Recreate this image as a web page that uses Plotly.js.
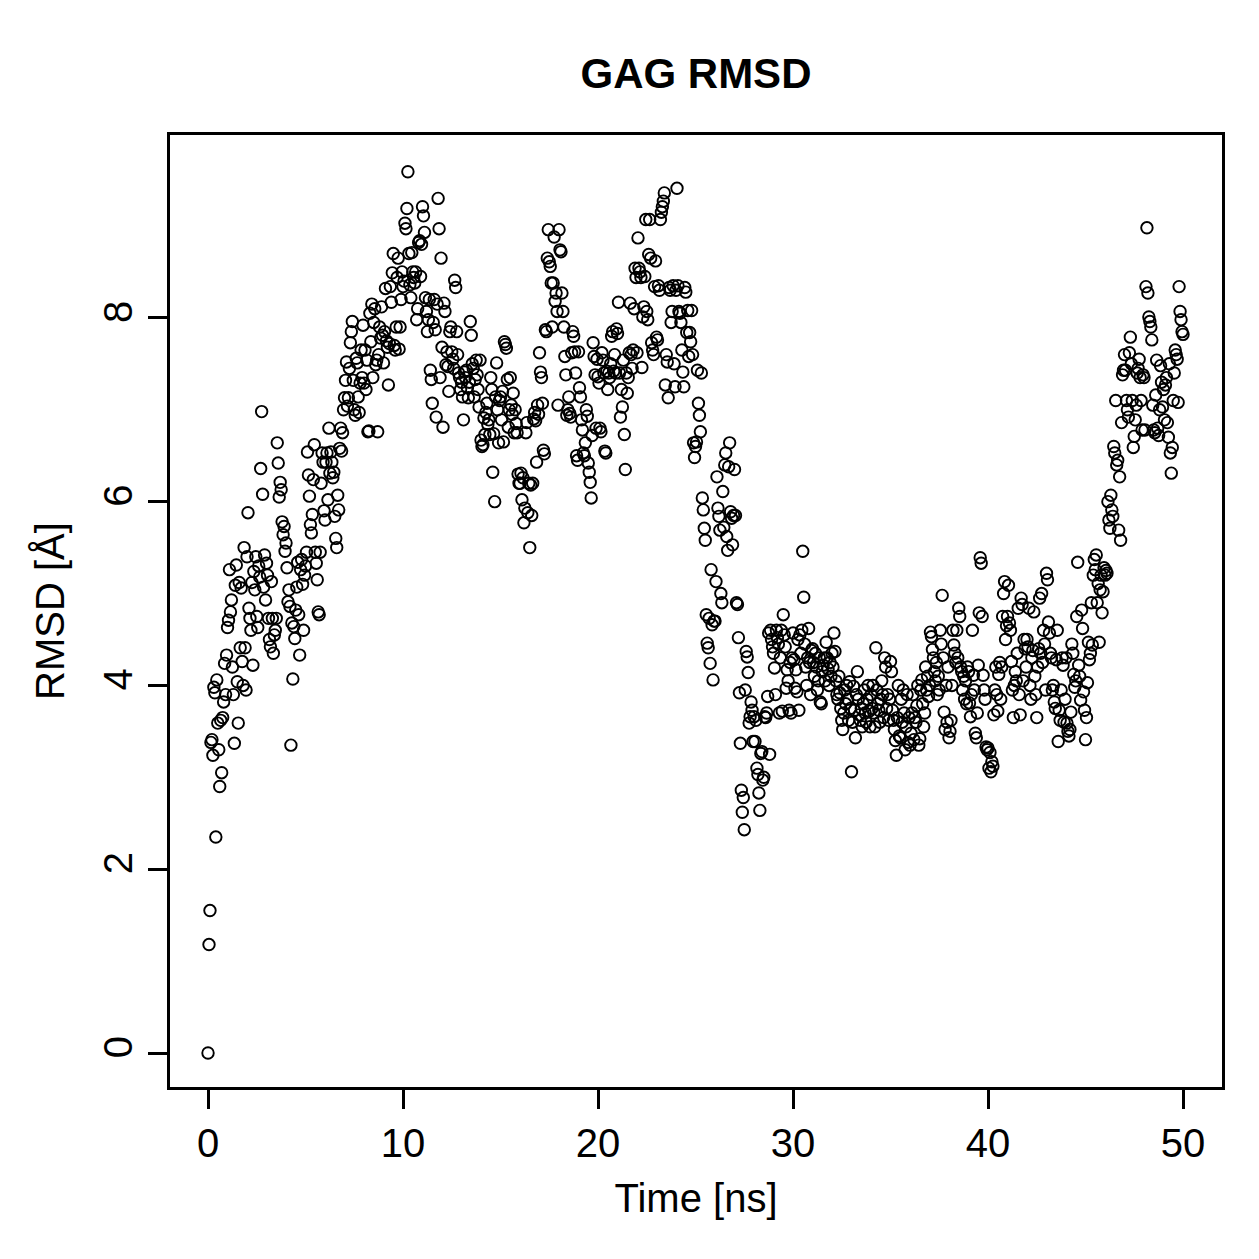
<!DOCTYPE html>
<html>
<head>
<meta charset="utf-8">
<script src="https://cdn.plot.ly/plotly-3.0.1.min.js"></script>
<style>
  html, body { margin: 0; padding: 0; background: #ffffff; }
  #chart { width: 1259px; height: 1259px; }
</style>
</head>
<body>
<div id="chart"></div>
<script>
// Sampling interval of the trajectory (ns)
const timeStep = 0.05;

// RMSD values [Å], 20 frames per ns
const rmsd0to10 = [
  0, 1.18, 1.55, 3.38, 3.41, 3.24, 3.98, 3.92, 2.35, 4.06, 3.59, 3.3, 2.9, 3.62, 3.05, 3.65, 3.82, 4.24, 3.9, 4.33,
  4.63, 4.71, 5.26, 4.8, 4.93, 4.2, 3.9, 3.37, 5.09, 5.31, 4.04, 3.59, 5.12, 4.41, 5.06, 4.26, 4.0, 5.5, 4.41, 3.95,
  5.4, 5.88, 4.84, 4.73, 4.6, 5.12, 4.22, 5.24, 5.04, 5.4, 4.75, 4.63, 5.3, 5.18, 6.36, 6.98, 6.08, 5.07, 5.42, 4.93,
  5.33, 5.2, 4.73, 4.5, 4.42, 5.13, 4.73, 4.35, 4.55, 4.6, 4.73, 6.64, 6.42, 6.05, 6.21, 6.13, 5.78, 5.64, 5.73, 5.46,
  5.55, 5.28, 4.91, 5.04, 4.86, 3.35, 4.68, 4.07, 4.64, 4.51, 4.82, 5.07, 5.34, 4.77, 4.33, 5.26, 5.37, 5.1, 4.6, 5.2,
  5.3, 5.45, 6.54, 6.29, 6.06, 5.75, 5.66, 5.86, 6.24, 6.62, 5.45, 5.33, 5.15, 4.8, 4.77, 5.45, 6.2, 6.53, 6.43, 5.9,
  5.8, 6.43, 6.53, 6.02, 6.8, 6.31, 6.54, 6.43, 6.26, 6.32, 5.84, 5.6, 5.5, 6.07, 5.91, 6.58, 6.8, 6.55, 6.75, 7.0,
  7.13, 7.32, 7.52, 7.04, 7.13, 7.45, 7.73, 7.85, 7.96, 7.32, 7.0, 6.94, 7.56, 7.51, 7.14, 6.97, 7.29, 7.65, 7.35, 7.92,
  7.29, 7.65, 7.22, 7.54, 6.76, 6.77, 8.05, 7.74, 8.15, 7.35, 7.95, 8.1, 7.49, 7.54, 6.76, 7.6, 7.9, 7.78, 8.12, 7.81,
  7.51, 7.85, 8.32, 7.75, 7.68, 7.27, 7.72, 8.34, 8.17, 8.49, 8.7, 7.7, 7.65, 7.9, 8.44, 8.65, 7.66, 7.9, 8.2, 8.5
];
const rmsd10to20 = [
  8.34, 8.4, 9.03, 8.97, 9.19, 9.59, 8.7, 8.36, 8.22, 8.71, 8.5, 8.44, 8.38, 8.5, 7.98, 8.1, 8.82, 8.84, 8.45, 8.8,
  9.21, 9.11, 8.93, 8.22, 8.07, 7.85, 7.98, 8.2, 7.43, 7.33, 7.07, 7.95, 8.2, 7.87, 6.92, 8.15, 9.3, 8.97, 7.35, 8.65,
  7.68, 6.81, 8.16, 8.07, 7.49, 7.63, 7.47, 7.2, 7.85, 7.9, 7.63, 7.55, 7.45, 8.41, 8.33, 7.85, 7.6, 7.4, 7.35, 7.22,
  7.3, 7.14, 6.89, 7.41, 7.35, 7.43, 7.24, 7.13, 7.3, 7.96, 7.81, 7.5, 7.45, 7.14, 7.33, 7.54, 7.38, 7.22, 7.03, 7.54,
  6.67, 6.6, 6.62, 6.91, 6.73, 6.97, 7.07, 6.84, 6.89, 6.73, 7.35, 7.22, 6.32, 6.74, 6.0, 7.14, 7.51, 7.0, 6.64, 7.1,
  7.14, 6.89, 7.2, 6.65, 7.74, 7.71, 7.67, 7.33, 6.81, 7.0, 7.35, 7.05, 6.95, 7.18, 6.75, 7.0, 6.85, 6.75, 6.3, 6.2,
  6.2, 6.31, 6.02, 6.26, 5.77, 5.93, 6.75, 6.86, 5.88, 6.2, 5.5, 6.18, 5.85, 6.2, 6.9, 6.97, 6.88, 6.43, 7.05, 6.95,
  7.62, 7.41, 7.35, 7.07, 6.56, 6.52, 7.87, 7.85, 8.65, 8.96, 8.61, 8.56, 8.38, 7.9, 8.38, 8.88, 8.18, 8.27, 8.07, 7.05,
  8.96, 8.74, 8.72, 8.27, 8.07, 7.9, 7.58, 7.38, 6.94, 7.0, 7.14, 6.96, 6.92, 7.62, 7.85, 7.8, 7.63, 7.4, 6.5, 6.45,
  7.63, 7.24, 7.14, 6.89, 6.78, 6.53, 6.5, 6.64, 7.0, 6.93, 6.42, 6.32, 6.21, 6.04, 6.72, 7.73, 7.58, 7.38, 6.8, 7.55
];
const rmsd20to30 = [
  7.36, 7.29, 6.8, 6.76, 7.62, 7.54, 7.4, 6.55, 6.53, 7.42, 7.22, 7.4, 7.35, 7.5, 7.8, 7.85, 7.42, 7.6, 7.4, 7.88,
  7.83, 8.17, 7.4, 6.92, 7.22, 7.03, 7.54, 6.73, 6.35, 7.4, 7.18, 7.35, 7.62, 8.16, 7.6, 7.45, 7.65, 8.1, 8.54, 8.44,
  7.62, 8.87, 8.54, 8.5, 8.44, 7.46, 8.01, 8.12, 8.45, 9.07, 8.07, 7.98, 8.69, 9.07, 8.65, 7.73, 7.65, 7.6, 8.34, 8.62,
  7.79, 7.76, 8.35, 8.3, 9.07, 9.15, 9.21, 9.27, 9.36, 7.27, 7.6, 7.52, 7.13, 8.33, 8.3, 7.95, 8.07, 8.35, 7.5, 7.25,
  8.3, 9.41, 8.35, 8.07, 8.05, 7.95, 7.65, 7.41, 7.25, 8.33, 8.28, 7.84, 8.08, 7.58, 7.84, 7.74, 8.08, 7.6, 6.64, 6.48,
  6.6, 6.65, 7.43, 7.07, 6.94, 6.76, 7.4, 6.04, 5.91, 5.71, 5.58, 4.77, 4.46, 4.41, 4.73, 4.24, 5.26, 4.66, 4.06, 4.7,
  4.7, 5.13, 6.27, 5.93, 5.84, 5.69, 5.0, 4.9, 6.11, 5.72, 6.4, 6.53, 5.62, 5.47, 6.38, 6.64, 5.89, 5.82, 5.53, 5.85,
  6.35, 5.85, 4.9, 4.88, 4.52, 3.92, 3.37, 2.86, 2.62, 2.78, 2.43, 3.95, 4.37, 4.31, 4.14, 3.59, 3.66, 3.82, 3.73, 3.39,
  3.66, 3.39, 3.62, 3.1, 3.03, 2.83, 2.64, 3.26, 3.28, 2.97, 3.0, 3.66, 3.65, 3.7, 3.88, 4.57, 3.25, 4.6, 4.5, 4.42,
  4.35, 4.19, 3.9, 4.6, 4.52, 4.45, 3.7, 4.3, 4.6, 3.72, 4.77, 4.55, 4.42, 3.97, 4.17, 4.05, 3.73, 4.25, 3.7, 4.3
];
const rmsd30to40 = [
  4.57, 4.28, 3.97, 4.17, 3.93, 4.5, 3.73, 4.55, 4.35, 4.6, 5.46, 4.96, 4.45, 4.2, 4.0, 4.3, 4.62, 4.25, 3.9, 4.38,
  4.4, 4.25, 4.1, 4.35, 4.2, 3.95, 4.05, 4.3, 3.82, 3.8, 4.15, 4.22, 4.3, 4.05, 4.47, 4.3, 4.18, 4.0, 4.25, 4.1,
  4.35, 4.2, 4.57, 4.37, 4.05, 3.9, 3.85, 4.1, 3.92, 3.75, 3.62, 3.52, 3.7, 3.95, 3.8, 4.0, 3.85, 3.62, 4.04, 3.75,
  3.06, 3.6, 3.99, 3.73, 3.43, 3.9, 4.15, 3.85, 3.68, 3.62, 3.75, 3.55, 3.8, 3.95, 3.7, 3.6, 3.85, 4.0, 3.72, 3.55,
  3.9, 3.75, 4.0, 3.7, 3.55, 4.41, 3.95, 3.8, 3.73, 3.6, 3.85, 4.05, 3.9, 3.65, 4.3, 4.2, 3.75, 3.9, 3.62, 3.85,
  4.26, 4.15, 3.73, 3.62, 3.52, 3.4, 3.24, 3.65, 4.0, 3.45, 3.43, 3.85, 3.6, 3.95, 3.7, 3.3, 3.55, 3.9, 3.38, 3.65,
  3.35, 3.48, 3.7, 3.9, 3.41, 3.65, 3.6, 3.78, 4.0, 3.35, 3.42, 3.95, 4.06, 3.8, 3.55, 3.7, 4.2, 3.95, 4.1, 3.88,
  4.0, 4.58, 4.53, 4.39, 4.3, 4.15, 4.05, 4.25, 3.9, 4.1, 3.95, 4.6, 4.45, 4.98, 4.3, 3.71, 3.52, 4.0, 3.6, 4.2,
  3.43, 3.5, 3.62, 4.0, 4.6, 4.44, 4.35, 4.25, 4.6, 4.3, 4.84, 4.75, 4.2, 4.15, 3.95, 4.1, 3.85, 4.05, 3.8, 4.2,
  4.15, 3.81, 3.66, 3.9, 4.6, 4.11, 3.95, 3.48, 3.43, 3.7, 4.22, 4.79, 5.39, 5.33, 4.75, 4.11, 3.95, 3.85, 3.33, 3.3
];
const rmsd40to50 = [
  3.32, 3.1, 3.27, 3.06, 3.17, 3.12, 3.68, 3.95, 4.2, 3.9, 3.72, 4.12, 4.25, 3.85, 4.2, 4.75, 5.0, 5.13, 4.5, 4.65,
  4.75, 5.09, 4.68, 4.6, 4.26, 3.95, 3.65, 4.0, 4.15, 4.05, 4.35, 4.84, 3.9, 3.68, 4.95, 4.88, 4.05, 4.5, 4.4, 4.2,
  4.5, 4.42, 4.84, 4.0, 3.85, 4.3, 4.38, 4.8, 4.1, 3.9, 3.65, 4.2, 4.4, 4.95, 4.35, 5.0, 4.25, 4.6, 4.45, 3.95,
  5.22, 5.15, 4.69, 4.57, 4.35, 4.3, 3.95, 4.0, 3.82, 3.75, 4.28, 4.6, 3.39, 3.73, 3.62, 3.95, 4.3, 4.22, 3.6, 3.85,
  4.3, 3.59, 3.5, 3.45, 3.52, 3.71, 4.45, 4.35, 4.12, 3.98, 4.05, 4.75, 5.34, 4.22, 4.1, 3.84, 4.82, 4.62, 3.93, 3.73,
  3.41, 3.65, 4.03, 4.47, 4.28, 4.35, 4.9, 4.44, 5.2, 5.37, 5.26, 5.42, 4.9, 5.11, 4.47, 5.04, 5.2, 4.79, 5.02, 5.28,
  5.2, 5.25, 5.22, 6.0, 5.8, 5.71, 6.07, 5.91, 5.84, 6.6, 6.53, 7.1, 6.4, 6.45, 5.69, 6.27, 5.58, 6.86, 7.38, 7.43,
  7.6, 7.43, 7.1, 7.0, 6.92, 7.62, 7.79, 7.5, 7.1, 6.59, 6.71, 6.89, 7.05, 7.4, 7.45, 7.55, 7.35, 7.1, 6.78, 7.38,
  7.35, 6.78, 8.34, 8.98, 8.27, 8.01, 7.96, 7.9, 7.76, 7.05, 6.78, 6.75, 7.16, 7.54, 6.8, 6.72, 7.0, 7.48, 7.3, 7.03,
  7.22, 6.89, 7.27, 7.35, 6.86, 6.7, 7.5, 6.53, 6.31, 6.59, 7.1, 7.4, 7.65, 7.6, 7.55, 7.08, 8.34, 8.07, 7.98, 7.85,
  7.82
];

// Axis ticks
const xTicks = [0, 10, 20, 30, 40, 50];
const yTicks = [0, 2, 4, 6, 8];

const rmsd = [].concat(rmsd0to10, rmsd10to20, rmsd20to30, rmsd30to40, rmsd40to50);
const time = rmsd.map((_, i) => +(i * timeStep).toFixed(2));

const FONT = '"Liberation Sans", Arial, Helvetica, sans-serif';

const trace = {
  type: 'scatter',
  mode: 'markers',
  x: time,
  y: rmsd,
  marker: {
    symbol: 'circle-open',
    size: 11.5,
    color: '#000000',
    line: { width: 1.9, color: '#000000' }
  },
  hoverinfo: 'x+y'
};

const layout = {
  width: 1259,
  height: 1259,
  paper_bgcolor: '#ffffff',
  plot_bgcolor: '#ffffff',
  showlegend: false,
  margin: { l: 170, r: 37, t: 135, b: 172, pad: 0 },
  font: { family: FONT, color: '#000000', size: 40 },
  title: {
    text: '<b>GAG RMSD</b>',
    font: { family: FONT, size: 42, color: '#000000' },
    x: 0.5528,
    xref: 'container',
    xanchor: 'center',
    y: 0.942,
    yref: 'container',
    yanchor: 'middle'
  },
  xaxis: {
    range: [-1.95, 52.0],
    tickmode: 'array',
    tickvals: xTicks,
    ticktext: xTicks.map(String),
    ticks: 'outside',
    ticklen: 19,
    tickwidth: 3,
    tickcolor: '#000000',
    showline: true,
    linewidth: 3,
    linecolor: '#000000',
    mirror: true,
    showgrid: false,
    zeroline: false,
    automargin: false,
    tickfont: { family: FONT, size: 40, color: '#000000' },
    title: {
      text: 'Time [ns]',
      font: { family: FONT, size: 40, color: '#000000' },
      standoff: 20
    }
  },
  yaxis: {
    range: [-0.37, 9.99],
    tickmode: 'array',
    tickvals: yTicks,
    ticktext: yTicks.map(String),
    ticks: 'outside',
    ticklen: 19,
    tickwidth: 3,
    tickcolor: '#000000',
    tickangle: -90,
    showline: true,
    linewidth: 3,
    linecolor: '#000000',
    mirror: true,
    showgrid: false,
    zeroline: false,
    automargin: false,
    tickfont: { family: FONT, size: 40, color: '#000000' },
    title: {
      text: 'RMSD [Å]',
      font: { family: FONT, size: 40, color: '#000000' },
      standoff: 20
    }
  }
};

Plotly.newPlot('chart', [trace], layout, { staticPlot: true, displayModeBar: false });
</script>
</body>
</html>
